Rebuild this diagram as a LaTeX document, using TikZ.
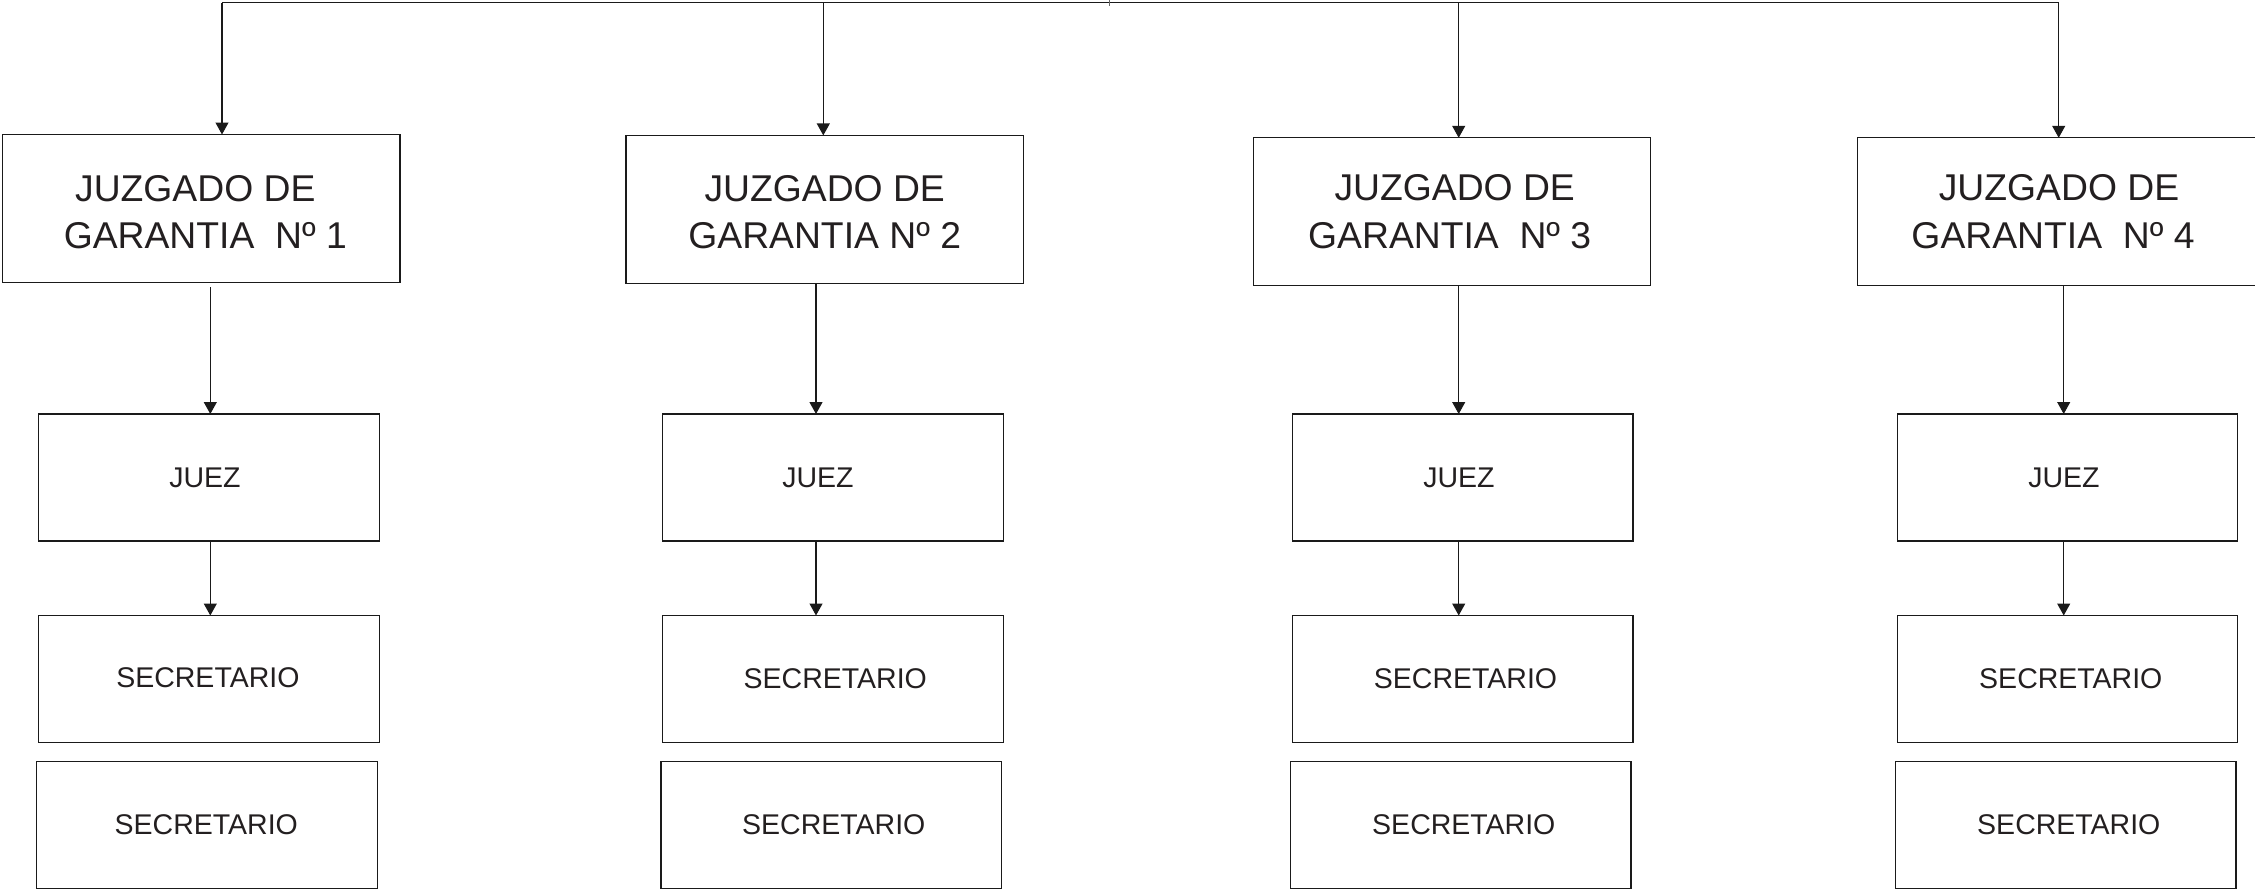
\documentclass[tikz,border=0pt]{standalone}
\usepackage{fontspec}
\setmainfont{Liberation Sans}
\usetikzlibrary{arrows.meta}
\definecolor{txtc}{HTML}{231F20}
\definecolor{linec}{HTML}{1A1A1A}
\begin{document}
\begin{tikzpicture}[x=1pt,y=-1pt,
  ln/.style={draw=linec, line width=1.2pt},
  arr/.style={ln, -{Triangle[width=13pt,length=12pt]}},
  gbox/.style={ln, rectangle, inner sep=0pt, outer sep=0pt, minimum width=397.3pt, minimum height=148pt},
  jbox/.style={ln, rectangle, inner sep=0pt, outer sep=0pt, minimum width=340.7pt, minimum height=127pt},
  gtxt/.style={text=txtc, inner sep=0pt, align=center, font=\fontsize{37.3}{47.5}\selectfont},
  stxt/.style={text=txtc, inner sep=0pt, font=\fontsize{28.5}{34}\selectfont},
]
\useasboundingbox (0,0) rectangle (2255,889);

% top level boxes
\node[gbox, label={[gtxt,xshift=4pt,yshift=-3.5pt]center:{JUZGADO DE\hspace*{20pt}\\GARANTIA\ \ Nº 1}}] (g1) at (201.3,208.5) {};
\node[gbox, label={[gtxt,yshift=-2.7pt]center:{JUZGADO DE\\GARANTIA Nº 2}}] (g2) at (824.7,209.4) {};
\node[gbox, label={[gtxt,xshift=-2.3pt]center:{\hspace*{10pt}JUZGADO DE\\GARANTIA\ \ Nº 3}}] (g3) at (1452,211.8) {};
\node[gbox, label={[gtxt,xshift=-3.5pt]center:{\hspace*{12pt}JUZGADO DE\\GARANTIA\ \ Nº 4}}] (g4) at (2056.5,211.8) {};

% juez boxes
\node[jbox, label={[stxt,xshift=-4pt]center:JUEZ}] (j1) at (208.9,477.5) {};
\node[jbox, label={[stxt,xshift=-15pt]center:JUEZ}] (j2) at (833,477.5) {};
\node[jbox, label={[stxt,xshift=-3.7pt]center:JUEZ}] (j3) at (1462.7,477.5) {};
\node[jbox, label={[stxt,xshift=-3.5pt]center:JUEZ}] (j4) at (2067.5,477.5) {};

% first secretario boxes
\node[jbox, label={[stxt,xshift=-1pt,yshift=1.5pt]center:SECRETARIO}] (s1) at (208.9,679) {};
\node[jbox, label={[stxt,xshift=2.3pt]center:SECRETARIO}] (s2) at (833,679) {};
\node[jbox, label={[stxt,xshift=2.8pt]center:SECRETARIO}] (s3) at (1462.7,679) {};
\node[jbox, label={[stxt,xshift=3.3pt]center:SECRETARIO}] (s4) at (2067.5,679) {};

% second secretario boxes
\node[jbox, label={[stxt,xshift=-0.7pt]center:SECRETARIO}] (r1) at (207,824.6) {};
\node[jbox, label={[stxt,xshift=2.5pt]center:SECRETARIO}] (r2) at (831.3,824.6) {};
\node[jbox, label={[stxt,xshift=3.1pt]center:SECRETARIO}] (r3) at (1460.7,824.6) {};
\node[jbox, label={[stxt,xshift=3.1pt]center:SECRETARIO}] (r4) at (2065.7,824.6) {};

% top distribution line
\coordinate (t1) at (222,2.7);
\coordinate (t2) at (823.3,2.7);
\coordinate (t3) at (1458.7,2.7);
\coordinate (t4) at (2058.7,2.7);
\coordinate (tk) at (1109,0);
\draw[ln] (t1) -- (t4);
\draw[ln, line width=1pt, draw=black!60] (tk) -- ++(0,6);
\draw[arr] (t1) -- (t1 |- g1.north);
\draw[arr] (t2) -- (t2 |- g2.north);
\draw[arr] (t3) -- (t3 |- g3.north);
\draw[arr] (t4) -- (t4 |- g4.north);

% vertical connectors
\coordinate (c1) at (210.3,0);
\coordinate (c2) at (816,0);
\coordinate (c3) at (1458.7,0);
\coordinate (c4) at (2063.7,0);
\coordinate (c1s) at (210.3,287);
\draw[arr] (c1s) -- (c1 |- j1.north);
\draw[arr] (c2 |- g2.south) -- (c2 |- j2.north);
\draw[arr] (c3 |- g3.south) -- (c3 |- j3.north);
\draw[arr] (c4 |- g4.south) -- (c4 |- j4.north);
\draw[arr] (c1 |- j1.south) -- (c1 |- s1.north);
\draw[arr] (c2 |- j2.south) -- (c2 |- s2.north);
\draw[arr] (c3 |- j3.south) -- (c3 |- s3.north);
\draw[arr] (c4 |- j4.south) -- (c4 |- s4.north);
\end{tikzpicture}
\end{document}
